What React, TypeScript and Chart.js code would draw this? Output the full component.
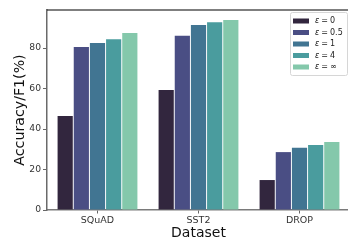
import { useEffect, useRef } from "react";
import { Chart, registerables } from "chart.js";

Chart.register(...registerables);

const categories = ["SQuAD", "SST2", "DROP"];
const epsLabels = ["0", "0.5", "1", "4", "∞"];
const eps0 = [46.4, 59.3, 14.8];
const eps05 = [80.5, 86.1, 28.6];
const eps1 = [82.5, 91.4, 30.8];
const eps4 = [84.4, 92.8, 32.1];
const epsInf = [87.4, 93.8, 33.6];
const yTicks = [0, 20, 40, 60, 80];
const colors = ["#32263e", "#4a4e84", "#417592", "#4a9c9e", "#84c8ab"];

const FONT = "'DejaVu Sans', sans-serif";

const extrasPlugin = {
  id: "extras",
  afterDraw(chart: any) {
    const { ctx, chartArea } = chart;
    ctx.save();
    // top spine
    ctx.strokeStyle = "#000";
    ctx.lineWidth = 1.2;
    ctx.beginPath();
    ctx.moveTo(chartArea.left, chartArea.top);
    ctx.lineTo(chartArea.right, chartArea.top);
    ctx.stroke();

    // legend
    const bx = 290, by = 12, bw = 57, bh = 63;
    ctx.fillStyle = "rgba(255,255,255,0.85)";
    ctx.strokeStyle = "#d6d6d6";
    ctx.lineWidth = 1;
    ctx.beginPath();
    ctx.roundRect(bx + 0.5, by + 0.5, bw, bh, 2);
    ctx.fill();
    ctx.stroke();
    const ds = chart.data.datasets;
    ds.forEach((d: any, i: number) => {
      const cy = 21 + i * 11.5;
      ctx.fillStyle = d.backgroundColor;
      ctx.fillRect(293, cy - 2.5, 16, 5);
      ctx.fillStyle = "#222";
      ctx.textBaseline = "middle";
      ctx.textAlign = "left";
      let x = 315;
      ctx.font = `italic 8px ${FONT}`;
      ctx.fillText("ε", x, cy);
      x += ctx.measureText("ε").width + 2;
      ctx.font = `8px ${FONT}`;
      ctx.fillText("=", x, cy);
      x += ctx.measureText("=").width + 2;
      ctx.fillText(epsLabels[i], x, cy);
    });
    ctx.restore();
  },
};

export default function App() {
  const ref = useRef<HTMLCanvasElement | null>(null);
  useEffect(() => {
    if (!ref.current) return;
    const series = [eps0, eps05, eps1, eps4, epsInf];
    const chart = new Chart(ref.current, {
      type: "bar",
      data: {
        labels: categories,
        datasets: series.map((s, i) => ({
          label: "ε = " + epsLabels[i],
          data: s,
          backgroundColor: colors[i],
          borderWidth: 0,
          categoryPercentage: 0.8,
          barPercentage: 0.94,
        })),
      },
      options: {
        responsive: false,
        animation: false,
        devicePixelRatio: 1,
        layout: { padding: { top: 10, right: 0, left: 0, bottom: 0 } },
        plugins: {
          legend: { display: false },
          tooltip: { enabled: false },
        },
        scales: {
          x: {
            offset: true,
            grid: {
              display: true,
              offset: false,
              drawOnChartArea: false,
              drawTicks: true,
              tickLength: 3.5,
              color: "#666",
            },
            border: { display: true, color: "#7a7a7a", width: 1.5 },
            ticks: {
              color: "#333",
              font: { family: FONT, size: 9.5 },
              padding: 1,
            },
            title: {
              display: true,
              text: "Dataset",
              color: "#111",
              font: { family: FONT, size: 14 },
              padding: { top: 0, bottom: 0 },
            },
            afterFit(scale: any) {
              scale.height = 32;
            },
          },
          y: {
            min: 0,
            max: 98.8,
            afterBuildTicks(scale: any) {
              scale.ticks = yTicks.map((v) => ({ value: v }));
            },
            grid: {
              display: true,
              drawOnChartArea: false,
              drawTicks: true,
              tickLength: 4,
              color: "#666",
            },
            border: { display: true, color: "#6a6a6a", width: 1.5 },
            ticks: {
              color: "#333",
              font: { family: FONT, size: 9.2 },
              padding: 2,
            },
            title: {
              display: true,
              text: "Accuracy/F1(%)",
              color: "#111",
              font: { family: FONT, size: 14.2 },
              padding: { top: 11.5, bottom: 0 },
            },
            afterFit(scale: any) {
              scale.width = 47;
            },
          },
        },
      },
      plugins: [extrasPlugin],
    });
    return () => chart.destroy();
  }, []);

  return (
    <div
      style={{
        position: "fixed",
        left: 0,
        top: 0,
        width: 348,
        height: 242,
        overflow: "hidden",
        background: "#fff",
      }}
    >
      <canvas ref={ref} width={350} height={242} style={{ display: "block", width: 350, height: 242 }} />
    </div>
  );
}
